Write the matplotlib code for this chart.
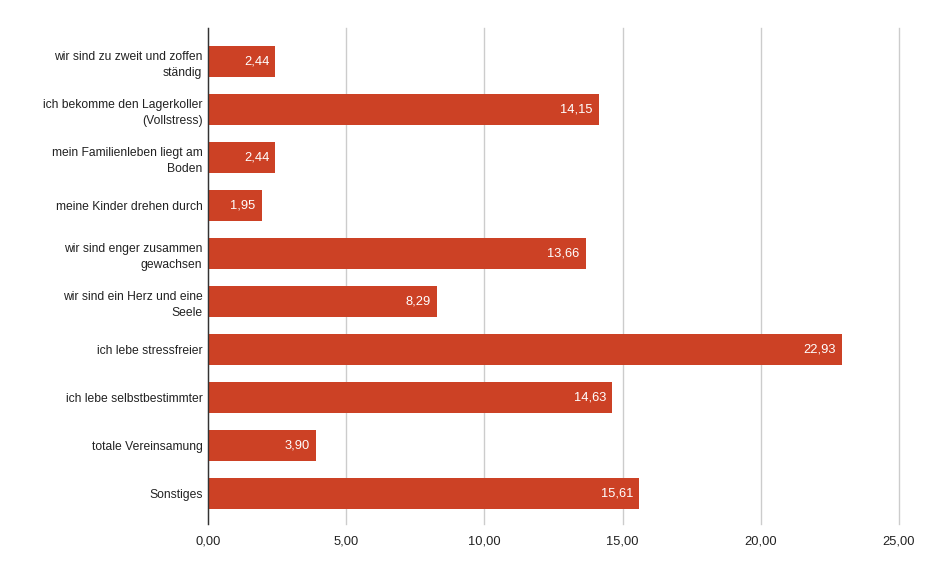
import matplotlib
matplotlib.use("Agg")
import matplotlib.pyplot as plt

categories = [
    "wir sind zu zweit und zoffen\nständig",
    "ich bekomme den Lagerkoller\n(Vollstress)",
    "mein Familienleben liegt am\nBoden",
    "meine Kinder drehen durch",
    "wir sind enger zusammen\ngewachsen",
    "wir sind ein Herz und eine\nSeele",
    "ich lebe stressfreier",
    "ich lebe selbstbestimmter",
    "totale Vereinsamung",
    "Sonstiges",
]
values = [2.44, 14.15, 2.44, 1.95, 13.66, 8.29, 22.93, 14.63, 3.90, 15.61]
xticks = [0, 5, 10, 15, 20, 25]

plt.rcParams['font.family'] = ['Liberation Sans', 'DejaVu Sans']

fig = plt.figure(figsize=(9.28, 5.74), dpi=100)
ax = fig.add_axes([208/928, 1 - 524/574, (899 - 208)/928, (524 - 28)/574])

pos = list(range(len(categories)))
bars = ax.barh(pos, values, height=0.65, color="#cc4125", zorder=2)

for b, v in zip(bars, values):
    ax.annotate(f"{v:.2f}".replace(".", ","),
                xy=(b.get_width(), b.get_y() + b.get_height() / 2),
                xytext=(-4.5, 0), textcoords="offset points",
                ha="right", va="center", color="white", fontsize=9.3)

ax.set_xlim(0, 25)
ax.set_ylim(9.64, -0.7)
ax.set_xticks(xticks)
ax.set_xticklabels([f"{t:.2f}".replace(".", ",") for t in xticks], fontsize=9.3, color="#222222")
ax.set_yticks(pos)
ax.set_yticklabels(categories, fontsize=8.7, color="#222222", linespacing=1.45)
ax.tick_params(axis="both", length=0)
ax.tick_params(axis="y", pad=4)
ax.tick_params(axis="x", pad=8)

ax.grid(axis="x", color="#cccccc", linewidth=1, zorder=0)
for gl in ax.get_xgridlines():
    gl.set_clip_on(False)
for s in ["top", "right", "bottom"]:
    ax.spines[s].set_visible(False)
ax.spines["left"].set_color("#333333")
ax.spines["left"].set_linewidth(1)
ax.spines["left"].set_zorder(3)

fig.savefig("out.png", dpi=100)
